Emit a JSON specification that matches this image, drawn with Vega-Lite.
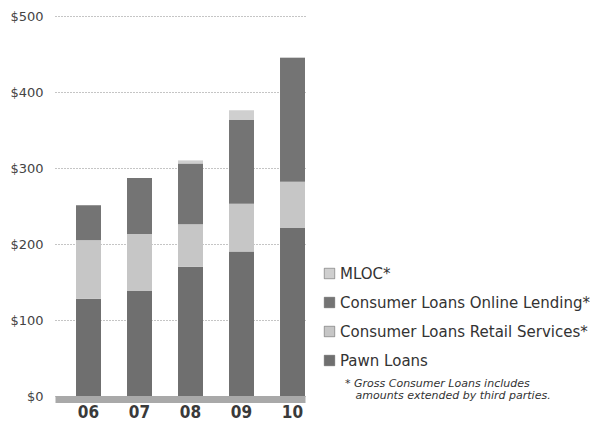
{
  "$schema": "https://vega.github.io/schema/vega-lite/v6.json",
  "width": 250,
  "height": 380,
  "autosize": {"type": "none"},
  "padding": {"left": 55, "top": 16, "right": 303, "bottom": 32},
  "background": "white",
  "title": {
    "text": ["* Gross Consumer Loans includes", "\u200b\u00a0\u00a0\u00a0amounts extended by third parties."],
    "orient": "top",
    "anchor": "start",
    "frame": "group",
    "baseline": "top",
    "offset": 0,
    "dx": 290,
    "dy": 391,
    "font": "DejaVu Sans",
    "fontSize": 11,
    "fontStyle": "italic",
    "fontWeight": "normal",
    "color": "#333333",
    "lineHeight": 12
  },
  "data": {
    "values": [
      {"year": "06", "series": "Pawn Loans", "rank": 1, "value": 128},
      {"year": "06", "series": "Consumer Loans Retail Services*", "rank": 2, "value": 77},
      {"year": "06", "series": "Consumer Loans Online Lending*", "rank": 3, "value": 46},
      {"year": "06", "series": "MLOC*", "rank": 4, "value": 0},
      {"year": "07", "series": "Pawn Loans", "rank": 1, "value": 138},
      {"year": "07", "series": "Consumer Loans Retail Services*", "rank": 2, "value": 75},
      {"year": "07", "series": "Consumer Loans Online Lending*", "rank": 3, "value": 74},
      {"year": "07", "series": "MLOC*", "rank": 4, "value": 0},
      {"year": "08", "series": "Pawn Loans", "rank": 1, "value": 170},
      {"year": "08", "series": "Consumer Loans Retail Services*", "rank": 2, "value": 56},
      {"year": "08", "series": "Consumer Loans Online Lending*", "rank": 3, "value": 80},
      {"year": "08", "series": "MLOC*", "rank": 4, "value": 4},
      {"year": "09", "series": "Pawn Loans", "rank": 1, "value": 190},
      {"year": "09", "series": "Consumer Loans Retail Services*", "rank": 2, "value": 63},
      {"year": "09", "series": "Consumer Loans Online Lending*", "rank": 3, "value": 110},
      {"year": "09", "series": "MLOC*", "rank": 4, "value": 13},
      {"year": "10", "series": "Pawn Loans", "rank": 1, "value": 221},
      {"year": "10", "series": "Consumer Loans Retail Services*", "rank": 2, "value": 61},
      {"year": "10", "series": "Consumer Loans Online Lending*", "rank": 3, "value": 163},
      {"year": "10", "series": "MLOC*", "rank": 4, "value": 1}
    ]
  },
  "mark": {"type": "bar"},
  "encoding": {
    "x": {
      "field": "year",
      "type": "ordinal",
      "scale": {"paddingInner": 0.51, "paddingOuter": 0.206, "align": 1},
      "axis": {
        "title": null,
        "labelAngle": 0,
        "ticks": false,
        "domain": true,
        "domainColor": "#a9a9a9",
        "domainWidth": 7,
        "offset": 3,
        "labelFont": "DejaVu Sans Condensed",
        "labelFontWeight": "bold",
        "labelFontSize": 17,
        "labelColor": "#3a3a3a",
        "labelPadding": 5
      }
    },
    "y": {
      "field": "value",
      "type": "quantitative",
      "stack": "zero",
      "scale": {"domain": [0, 500], "nice": false},
      "axis": {
        "title": null,
        "values": [0, 100, 200, 300, 400, 500],
        "format": "$d",
        "domain": false,
        "ticks": false,
        "grid": true,
        "gridColor": "#8a8a8a",
        "gridDash": [1, 2],
        "gridWidth": 1,
        "labelFont": "DejaVu Sans",
        "labelFontSize": 13,
        "labelColor": "#444444",
        "labelPadding": 12
      }
    },
    "color": {
      "field": "series",
      "type": "nominal",
      "scale": {
        "domain": ["MLOC*", "Consumer Loans Online Lending*", "Consumer Loans Retail Services*", "Pawn Loans"],
        "range": ["#cfcfcf", "#747474", "#c6c6c6", "#6f6f6f"]
      },
      "legend": {
        "title": null,
        "orient": "none",
        "legendX": 267,
        "legendY": 250,
        "symbolType": "square",
        "symbolSize": 110,
        "symbolStrokeWidth": 0.5,
        "symbolStrokeColor": "#555555",
        "labelFont": "DejaVu Sans",
        "labelFontSize": 15,
        "labelColor": "#333333",
        "labelOffset": 3,
        "rowPadding": 13,
        "labelLimit": 300
      }
    },
    "order": {"field": "rank", "type": "quantitative", "sort": "ascending"}
  },
  "config": {
    "view": {"stroke": null}
  }
}
